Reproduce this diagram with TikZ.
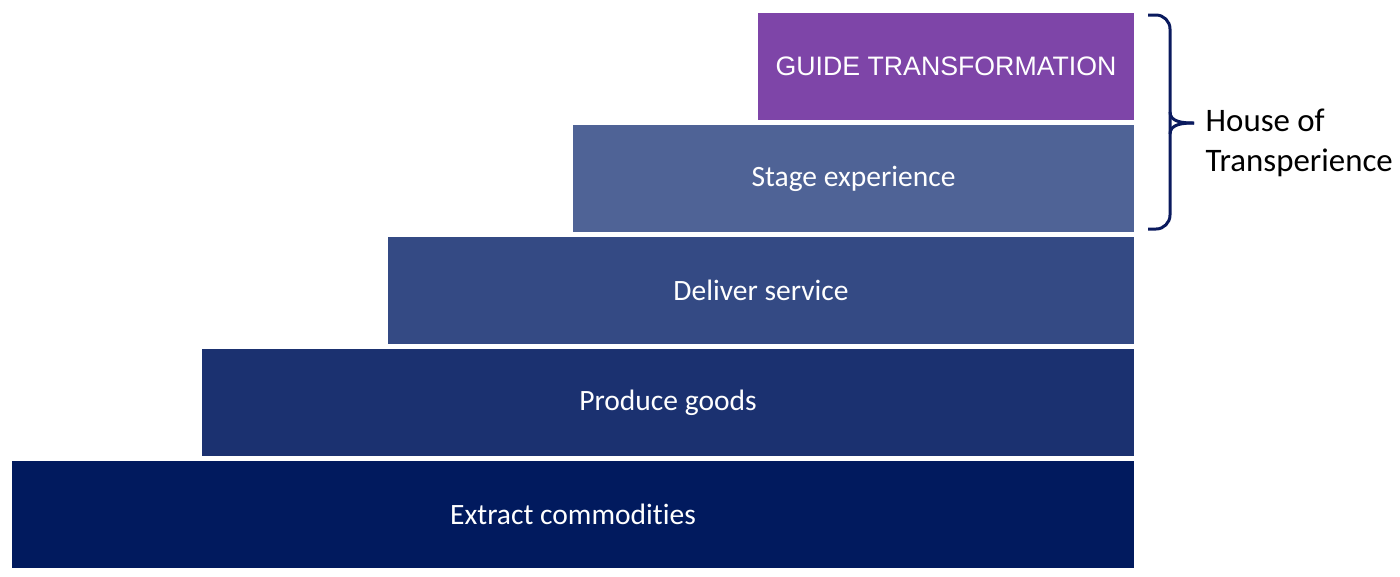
\documentclass[tikz,border=0pt]{standalone}
\usepackage{fontspec}
\usepackage{tikz}
\newfontfamily\stairfont[Ligatures=NoCommon]{Carlito}
\newfontfamily\topfont{Liberation Sans}
\definecolor{stepA}{RGB}{1,26,94}
\definecolor{stepB}{RGB}{27,49,112}
\definecolor{stepC}{RGB}{52,74,132}
\definecolor{stepD}{RGB}{79,99,150}
\definecolor{stepE}{RGB}{126,69,168}
\definecolor{bracecol}{RGB}{10,26,94}

\begin{document}
\begin{tikzpicture}[stair/.style={rectangle, inner sep=0pt, minimum height=1.07cm, text=white, font=\stairfont\fontsize{8.4}{10}\selectfont},
    bracket/.style={bracecol, line width=0.85pt}]
    \useasboundingbox (0,0) rectangle (14,5.76);
    \node[stair, fill=stepA, minimum width=11.22cm] at (5.73,0.615) (S0) {Extract commodities};
    \node[stair, fill=stepB, minimum width=9.32cm] at (6.68,1.735) (S1) {Produce goods};
    \node[stair, fill=stepC, minimum width=7.46cm] at (7.61,2.855) (S2) {Deliver service};
    \node[stair, fill=stepD, minimum width=5.61cm] at (8.535,3.975) (S3) {Stage experience};
    \node[stair, fill=stepE, minimum width=3.76cm, font=\topfont\fontsize{7.6}{9}\selectfont] at (9.46,5.10) (S4) {GUIDE TRANSFORMATION};
    % brace
    \coordinate (Btop) at (11.48,5.61);
    \coordinate (Bbot) at (11.48,3.47);
    \coordinate (Bmid) at (11.70,4.53);
    \coordinate (Btip) at (11.94,4.53);
    \draw[bracket, rounded corners=0.14cm] (Btop) -| (Bmid) |- (Bbot);
    \draw[bracket] (11.70,4.64) to[out=-90,in=180] (Btip);
    \draw[bracket] (11.70,4.42) to[out=90,in=180] (Btip);
    \node[anchor=west, align=left, inner sep=0pt, font=\stairfont\fontsize{9.35}{11.4}\selectfont] at (12.05,4.33) (H) {House of\\Transperience};
\end{tikzpicture}
\end{document}
